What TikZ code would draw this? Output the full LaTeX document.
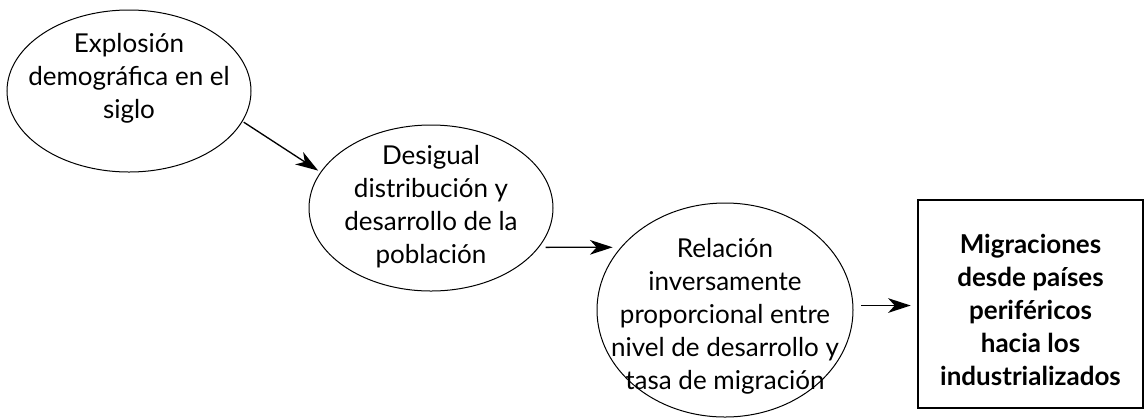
\documentclass[tikz,border=0pt]{standalone}
\usepackage{fontspec}
\setmainfont{Lato}
\usetikzlibrary{arrows.meta,shapes.geometric,calc}

\tikzset{
  bubble/.style={draw, ellipse, line width=0.75pt, inner sep=0pt},
  boxed/.style={draw, rectangle, line width=0.9pt, inner sep=0pt},
  txt/.style={align=center, inner sep=0pt, font=\fontsize{19.5}{24.75}\selectfont},
  flow/.style={-{Stealth[length=17pt,width=11pt,inset=5pt]}, line width=1pt},
}

\begin{document}
\begin{tikzpicture}[x=0.75pt,y=-0.75pt]
	\useasboundingbox (0,0) rectangle (1145,419);

	% the three causes
	\node[bubble, minimum width=183pt, minimum height=121.5pt] (expl) at (129,91) {};
	\node[bubble, minimum width=183pt, minimum height=124.5pt] (desig) at (431,208) {};
	\node[bubble, minimum width=192pt, minimum height=160.5pt] (relac) at (725,310) {};
	\node[boxed, minimum width=168.75pt, minimum height=156pt] (migr) at (1030.5,304) {};

	\node[txt] (explT) at (129,78) {Explosión\\demográfica en el\\siglo};
	\node[txt] (desigT) at (431,207) {Desigual\\distribución y\\desarrollo de la\\población};
	\node[txt] (relacT) at (725,316) {Relación\\inversamente\\proporcional entre\\nivel de desarrollo y\\tasa de migración};
	\node[txt, font=\fontsize{19.5}{24.75}\selectfont\bfseries] (migrT) at (1030.5,310) {Migraciones\\desde países\\periféricos\\hacia los\\industrializados};

	% arrows
	\draw[flow, shorten <=1pt, shorten >=2pt] (expl.-15) -- (desig.162);
	\draw[flow, shorten <=5pt, shorten >=6pt] (desig.-20.5) -- (relac.149);
	\draw[flow, shorten <=6pt, shorten >=5pt] (relac.2) -- (relac.2 -| migr.west);
\end{tikzpicture}
\end{document}
